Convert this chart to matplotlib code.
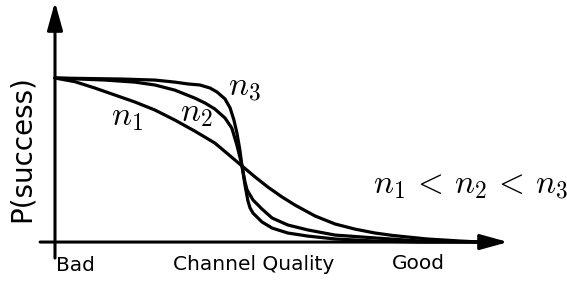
import matplotlib.pyplot as plt

plt.rcParams['mathtext.fontset'] = 'cm'

# Channel quality on a 0-100 scale, success probability 0-1
q1 = [0, 4.7, 9.4, 14.1, 18.8, 23.5, 28.2, 32.9, 37.6, 40.7, 44.0, 47.1, 50.1, 53.4,
      56.5, 61.2, 65.9, 70.6, 75.3, 79.5, 87.5, 95.3, 100]
p1 = [0.800, 0.782, 0.751, 0.717, 0.683, 0.644, 0.595, 0.541, 0.483, 0.429, 0.371, 0.317,
      0.268, 0.220, 0.180, 0.127, 0.088, 0.063, 0.044, 0.032, 0.015, 0.005, 0.0]

q2 = [0, 11.8, 18.8, 23.5, 28.2, 32.9, 35.3, 37.6, 40.0, 41.6, 42.8, 43.5, 44.0, 44.7,
      45.2, 46.6, 48.7, 51.1, 54.8, 59.5, 65.9, 75.3, 85.9, 100]
p2 = [0.800, 0.790, 0.780, 0.766, 0.741, 0.702, 0.678, 0.649, 0.605, 0.556, 0.473, 0.415,
      0.371, 0.293, 0.254, 0.205, 0.161, 0.117, 0.083, 0.059, 0.034, 0.020, 0.005, 0.0]

q3 = [0, 15.8, 23.5, 28.2, 31.3, 34.1, 36.5, 38.1, 40.0, 41.2, 42.1, 42.8, 43.5, 44.0,
      44.7, 45.4, 45.9, 46.6, 48.7, 51.1, 54.8, 59.5, 65.9, 75.3, 85.9, 100]
p3 = [0.800, 0.795, 0.790, 0.780, 0.771, 0.766, 0.751, 0.732, 0.698, 0.654, 0.595, 0.532,
      0.449, 0.371, 0.278, 0.200, 0.166, 0.141, 0.098, 0.068, 0.044, 0.029, 0.015, 0.005,
      0.0, 0.0]

fig = plt.figure(figsize=(5.67, 2.81), dpi=100)
ax = fig.add_axes([0, 0, 1, 1])
ax.set_xlim(-12.94, 120.47)
ax.set_ylim(-0.190, 1.1805)
ax.axis('off')

for q, p in [(q1, p1), (q2, p2), (q3, p3)]:
    ax.plot(q, p, color='black', lw=2.3, solid_capstyle='round', solid_joinstyle='round')

# axes with arrow heads
arrow = dict(arrowstyle='-|>,head_length=1.7,head_width=0.47', mutation_scale=10,
             color='black', lw=2.2, shrinkA=0, shrinkB=0)
ax.annotate('', xy=(106.6, 0), xytext=(-3.5, 0), arrowprops=arrow)
ax.annotate('', xy=(0, 1.171), xytext=(0, -0.078), arrowprops=arrow)

ax.text(16.9, 0.610, '$n_1$', fontsize=24, ha='center', va='center')
ax.text(33.2, 0.634, '$n_2$', fontsize=24, ha='center', va='center')
ax.text(44.5, 0.761, '$n_3$', fontsize=24, ha='center', va='center')
ax.text(74.8, 0.239, r'$n_1 \,<\, n_2 \,<\, n_3$', fontsize=24, ha='left', va='baseline')

ax.text(-7.76, 0.454, 'P(success)', fontsize=20, rotation=90, ha='center', va='center')
ax.text(4.9, -0.141, 'Bad', fontsize=14.5, ha='center', va='baseline')
ax.text(46.8, -0.137, 'Channel Quality', fontsize=14.5, ha='center', va='baseline')
ax.text(85.5, -0.132, 'Good', fontsize=14.5, ha='center', va='baseline')

fig.savefig('out.png', dpi=100)
